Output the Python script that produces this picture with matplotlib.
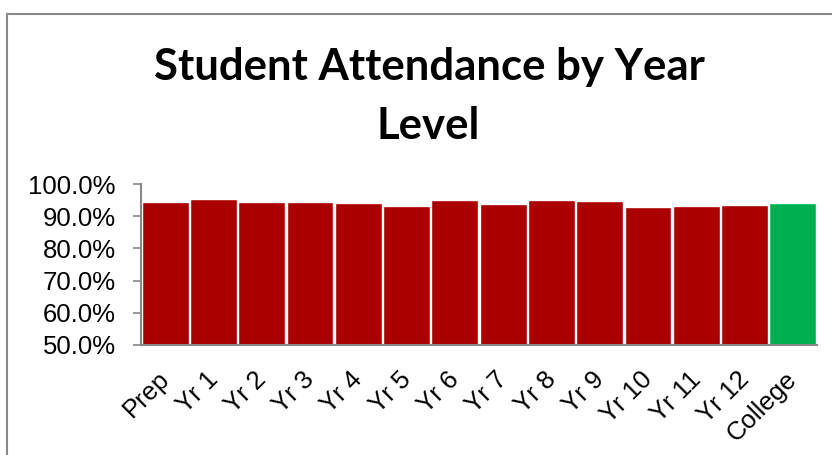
import matplotlib
matplotlib.use("Agg")
import matplotlib.pyplot as plt
from matplotlib.lines import Line2D
from matplotlib.ticker import FuncFormatter
from matplotlib.transforms import ScaledTranslation

categories = ["Prep", "Yr 1", "Yr 2", "Yr 3", "Yr 4", "Yr 5", "Yr 6", "Yr 7",
              "Yr 8", "Yr 9", "Yr 10", "Yr 11", "Yr 12", "College"]
attendance = [94.4, 95.3, 94.5, 94.4, 94.1, 93.1, 95.1, 93.8,
              95.0, 94.8, 92.8, 93.3, 93.6, 94.2]
bar_colors = ["#AA0000"] * 13 + ["#00B050"]
title_lines = ["Student Attendance by Year", "Level"]

fig = plt.figure(figsize=(8.32, 4.55), dpi=100)
ax = fig.add_axes([141/832, 1-344.7/455, (817-141)/832, (344.7-184.3)/455])

x = list(range(len(categories)))
ax.bar(x, attendance, width=0.97, color=bar_colors, edgecolor="white",
       linewidth=1.0)
ax.set_ylim(50, 100)
ax.set_xlim(-0.5, len(categories) - 0.5)
ax.set_yticks([50, 60, 70, 80, 90, 100])
ax.yaxis.set_major_formatter(FuncFormatter(lambda v, p: f"{v:.1f}%"))

ax.set_xticks(x)
ax.set_xticklabels(categories, rotation=45, ha="right", rotation_mode="anchor",
                   fontsize=18.5, family="Liberation Sans")
ax.tick_params(axis="x", length=0, pad=16)
offset = ScaledTranslation(-8/100, 0, fig.dpi_scale_trans)
for lab in ax.get_xticklabels():
    lab.set_transform(lab.get_transform() + offset)
ax.tick_params(axis="y", length=6, width=1.2, color="#888888", labelsize=18.5,
               pad=12)
for lab in ax.get_yticklabels():
    lab.set_family("Liberation Sans")

for s in ["top", "right"]:
    ax.spines[s].set_visible(False)
for s in ["left", "bottom"]:
    ax.spines[s].set_color("#888888")
    ax.spines[s].set_linewidth(1.5)

fig.text(429/832, 1-80/455, title_lines[0], ha="center", va="baseline",
         fontsize=31.5, fontweight="bold", family="Lato")
fig.text(428/832, 1-139/455, title_lines[1], ha="center", va="baseline",
         fontsize=31.5, fontweight="bold", family="Lato")

# chart frame
fig.add_artist(Line2D([7/832, 7/832], [0, 1-14/455], color="#888888", lw=1.5,
                      transform=fig.transFigure))
fig.add_artist(Line2D([7/832, 1], [1-14/455, 1-14/455], color="#888888", lw=1.5,
                      transform=fig.transFigure))

fig.savefig("out.png", dpi=100)
